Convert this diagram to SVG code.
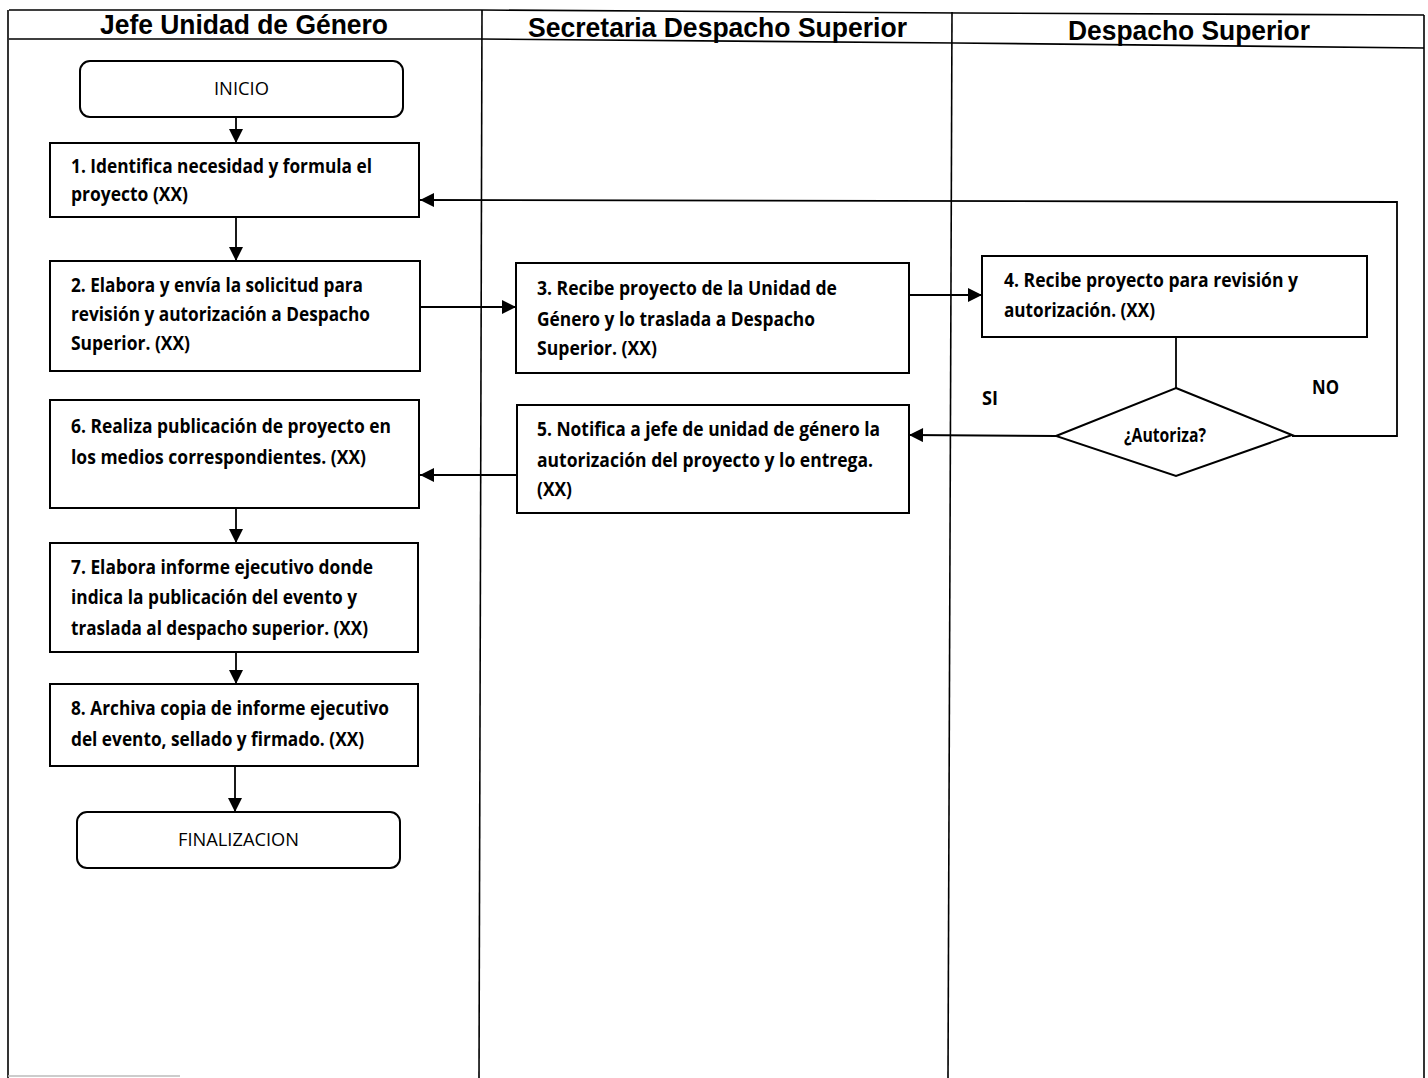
<svg xmlns="http://www.w3.org/2000/svg" width="1428" height="1078" viewBox="0 0 1428 1078">
<style>
.frame{fill:none;stroke:#000;stroke-width:1.6}
.box{fill:#fff;stroke:#000;stroke-width:2}
.con{fill:none;stroke:#000;stroke-width:1.8}
.hdr{font-family:"Liberation Sans",Arial,sans-serif;font-weight:bold;font-size:27px;fill:#000}
.t{font-family:"Open Sans","Liberation Sans",sans-serif;font-weight:bold;font-size:19px;fill:#000}
.tc{font-family:"Open Sans","Liberation Sans",sans-serif;font-size:19px;fill:#000}
</style>
<defs>
<marker id="ahb" viewBox="0 0 10 10" refX="10" refY="5" markerWidth="16" markerHeight="14" markerUnits="userSpaceOnUse" orient="auto">
<path d="M0,0 L10,5 L0,10 z" fill="#000"/>
</marker>
</defs>
<rect width="1428" height="1078" fill="#fff"/>
<g id="swimlanes">
<polyline class="frame" points="9,10 480,10 960,13 1424,15"/>
<polyline class="frame" points="9,39 480,39 955,43 1424,48"/>
<line class="frame" x1="8" y1="10" x2="8" y2="1078"/>
<line class="frame" x1="482" y1="10" x2="479" y2="1078"/>
<line class="frame" x1="952" y1="12" x2="948" y2="1078"/>
<line class="frame" x1="1424" y1="15" x2="1424" y2="1078"/>
<line x1="8" y1="1076" x2="180" y2="1076" stroke="#bbb" stroke-width="1.5"/>
<text class="hdr" x="100" y="34" textLength="288" lengthAdjust="spacingAndGlyphs">Jefe Unidad de Género</text>
<text class="hdr" x="528" y="37" textLength="379" lengthAdjust="spacingAndGlyphs">Secretaria Despacho Superior</text>
<text class="hdr" x="1068" y="40" textLength="242" lengthAdjust="spacingAndGlyphs">Despacho Superior</text>
</g>
<g id="connectors">
<line class="con" x1="236" y1="117" x2="236" y2="143" marker-end="url(#ahb)"/>
<line class="con" x1="236" y1="217" x2="236" y2="261" marker-end="url(#ahb)"/>
<line class="con" x1="420" y1="307" x2="516" y2="307" marker-end="url(#ahb)"/>
<line class="con" x1="909" y1="295" x2="982" y2="295" marker-end="url(#ahb)"/>
<line class="con" x1="1176" y1="337" x2="1176" y2="388"/>
<polyline class="con" points="1292,436 1397,436 1397,202 420,200" marker-end="url(#ahb)"/>
<line class="con" x1="1056" y1="436" x2="909" y2="435" marker-end="url(#ahb)"/>
<line class="con" x1="517" y1="475" x2="420" y2="475" marker-end="url(#ahb)"/>
<line class="con" x1="236" y1="508" x2="236" y2="543" marker-end="url(#ahb)"/>
<line class="con" x1="236" y1="652" x2="236" y2="684" marker-end="url(#ahb)"/>
<line class="con" x1="235" y1="766" x2="235" y2="812" marker-end="url(#ahb)"/>
<text class="t" x="982" y="405" textLength="16" lengthAdjust="spacingAndGlyphs">SI</text>
<text class="t" x="1312" y="394" textLength="27" lengthAdjust="spacingAndGlyphs">NO</text>
</g>
<g id="inicio">
<rect class="box" x="80" y="61" width="323" height="56" rx="10"/>
<text class="tc" x="214" y="95" textLength="55" lengthAdjust="spacingAndGlyphs">INICIO</text>
</g>
<g id="step1">
<rect class="box" x="50" y="143" width="369" height="74"/>
<text class="t" x="71" y="173" textLength="301" lengthAdjust="spacingAndGlyphs">1. Identifica necesidad y formula el</text>
<text class="t" x="71" y="201" textLength="117" lengthAdjust="spacingAndGlyphs">proyecto (XX)</text>
</g>
<g id="step2">
<rect class="box" x="50" y="261" width="370" height="110"/>
<text class="t" x="71" y="292" textLength="292" lengthAdjust="spacingAndGlyphs">2. Elabora y envía la solicitud para</text>
<text class="t" x="71" y="321" textLength="299" lengthAdjust="spacingAndGlyphs">revisión y autorización a Despacho</text>
<text class="t" x="71" y="350" textLength="119" lengthAdjust="spacingAndGlyphs">Superior. (XX)</text>
</g>
<g id="step3">
<rect class="box" x="516" y="263" width="393" height="110"/>
<text class="t" x="537" y="295" textLength="300" lengthAdjust="spacingAndGlyphs">3. Recibe proyecto de la Unidad de</text>
<text class="t" x="537" y="326" textLength="278" lengthAdjust="spacingAndGlyphs">Género y lo traslada a Despacho</text>
<text class="t" x="537" y="355" textLength="120" lengthAdjust="spacingAndGlyphs">Superior. (XX)</text>
</g>
<g id="step4">
<rect class="box" x="982" y="256" width="385" height="81"/>
<text class="t" x="1004" y="287" textLength="294" lengthAdjust="spacingAndGlyphs">4. Recibe proyecto para revisión y</text>
<text class="t" x="1004" y="317" textLength="151" lengthAdjust="spacingAndGlyphs">autorización. (XX)</text>
</g>
<g id="decision">
<polygon class="box" points="1176,388 1292,435 1176,476 1056,436"/>
<text class="t" x="1124" y="442" textLength="82" lengthAdjust="spacingAndGlyphs">¿Autoriza?</text>
</g>
<g id="step5">
<rect class="box" x="517" y="405" width="392" height="108"/>
<text class="t" x="537" y="436" textLength="343" lengthAdjust="spacingAndGlyphs">5. Notifica a jefe de unidad de género la</text>
<text class="t" x="537" y="467" textLength="336" lengthAdjust="spacingAndGlyphs">autorización del proyecto y lo entrega.</text>
<text class="t" x="537" y="496" textLength="35" lengthAdjust="spacingAndGlyphs">(XX)</text>
</g>
<g id="step6">
<rect class="box" x="50" y="400" width="369" height="108"/>
<text class="t" x="71" y="433" textLength="320" lengthAdjust="spacingAndGlyphs">6. Realiza publicación de proyecto en</text>
<text class="t" x="71" y="464" textLength="295" lengthAdjust="spacingAndGlyphs">los medios correspondientes. (XX)</text>
</g>
<g id="step7">
<rect class="box" x="50" y="543" width="368" height="109"/>
<text class="t" x="71" y="574" textLength="302" lengthAdjust="spacingAndGlyphs">7. Elabora informe ejecutivo donde</text>
<text class="t" x="71" y="604" textLength="286" lengthAdjust="spacingAndGlyphs">indica la publicación del evento y</text>
<text class="t" x="71" y="635" textLength="297" lengthAdjust="spacingAndGlyphs">traslada al despacho superior. (XX)</text>
</g>
<g id="step8">
<rect class="box" x="50" y="684" width="368" height="82"/>
<text class="t" x="71" y="715" textLength="318" lengthAdjust="spacingAndGlyphs">8. Archiva copia de informe ejecutivo</text>
<text class="t" x="71" y="746" textLength="293" lengthAdjust="spacingAndGlyphs">del evento, sellado y firmado. (XX)</text>
</g>
<g id="finalizacion">
<rect class="box" x="77" y="812" width="323" height="56" rx="10"/>
<text class="tc" x="178" y="846" textLength="121" lengthAdjust="spacingAndGlyphs">FINALIZACION</text>
</g>
</svg>
